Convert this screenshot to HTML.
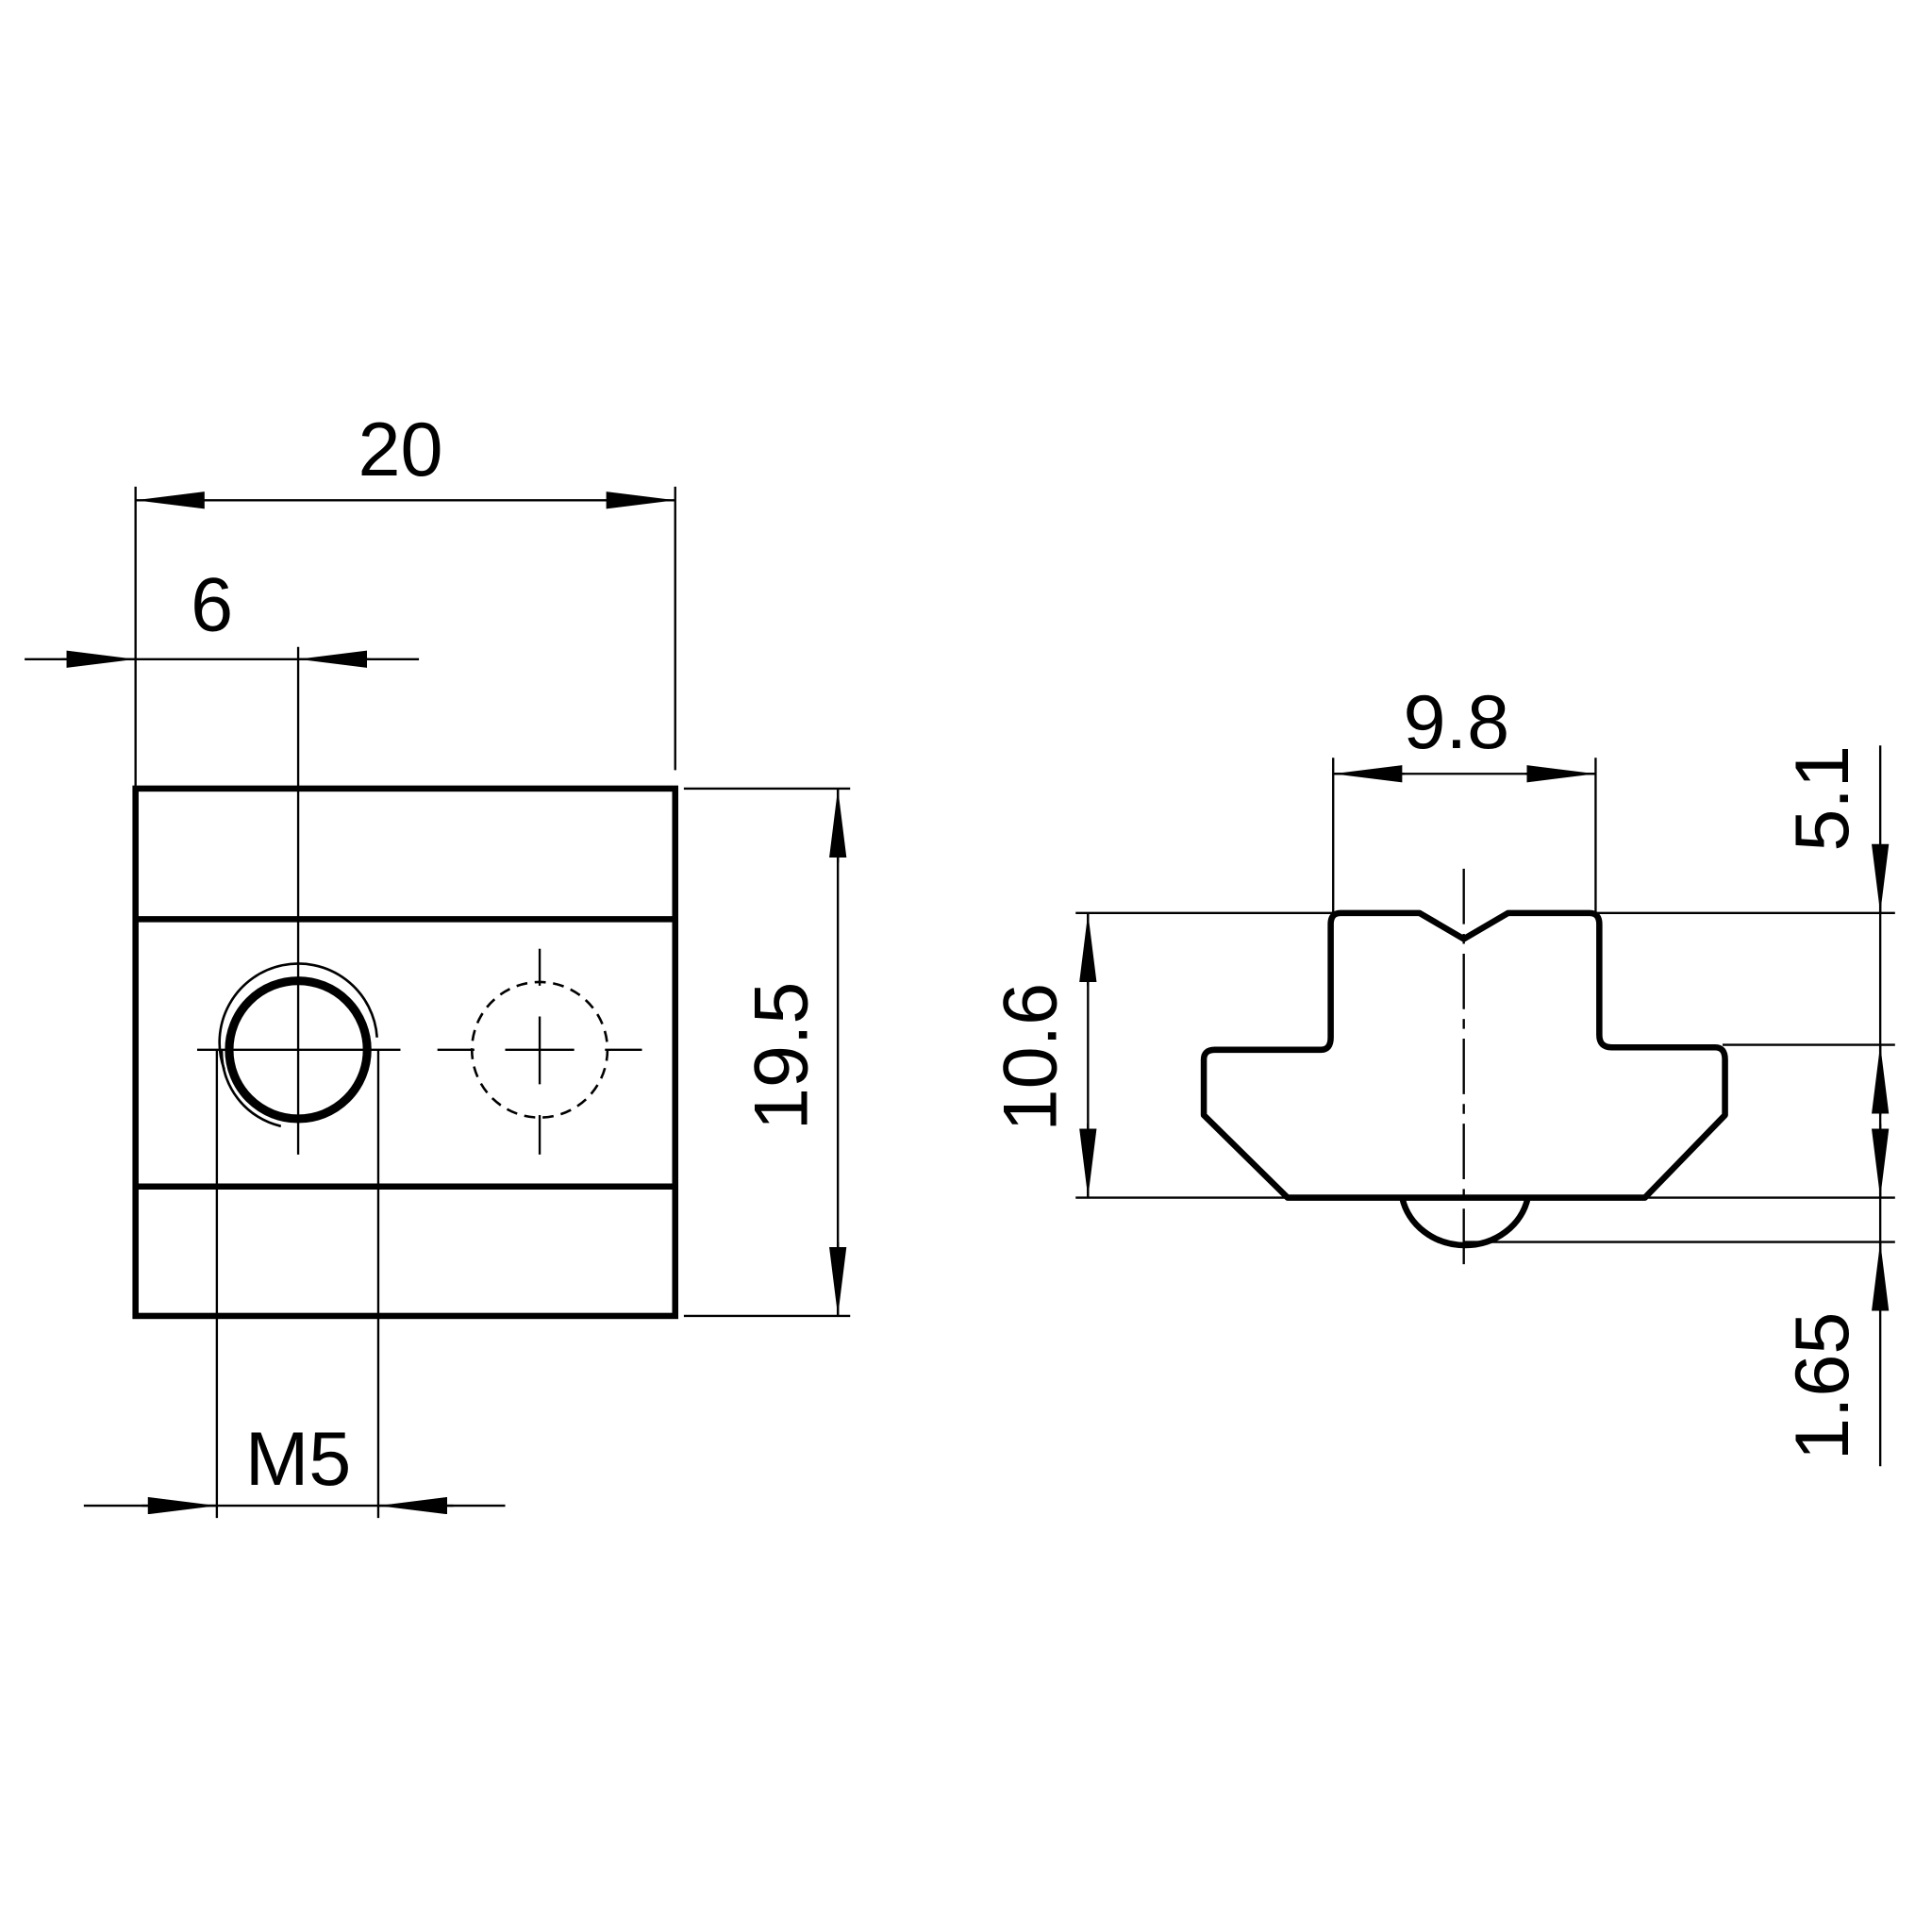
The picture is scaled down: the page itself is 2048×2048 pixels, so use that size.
<!DOCTYPE html>
<html><head><style>html,body{margin:0;padding:0;background:#fff}svg{display:block}</style></head>
<body>
<svg width="2048" height="2048" viewBox="0 0 1568 1568" xmlns="http://www.w3.org/2000/svg">
<defs>
<marker id="a" viewBox="0 0 56 14" refX="56" refY="7" markerWidth="56" markerHeight="14" markerUnits="userSpaceOnUse" orient="auto"><path d="M0,0 L56,7 L0,14 Z" fill="#000"/></marker>
</defs>
<g font-family="'Liberation Sans',sans-serif" font-size="62" fill="#000">
<g stroke="#000" fill="none">
<rect x="110" y="640" width="438" height="428" stroke-width="5"/>
<line x1="110" y1="746" x2="548" y2="746" stroke-width="5"/>
<line x1="110" y1="963" x2="548" y2="963" stroke-width="5"/>
<circle cx="242" cy="852" r="56" stroke-width="7"/>
<path d="M182,868 A64,64 0 1 1 306,842" stroke-width="2"/>
<path d="M180,852 A62,62 0 0 0 228,914" stroke-width="2"/>
<circle cx="438" cy="852" r="55" stroke-width="2" stroke-dasharray="9,6"/>
<g stroke-width="1.8">
<line x1="242" y1="525" x2="242" y2="937"/>
<line x1="160" y1="852" x2="325" y2="852"/>
<line x1="438" y1="770" x2="438" y2="800"/><line x1="438" y1="825" x2="438" y2="880"/><line x1="438" y1="905" x2="438" y2="937"/>
<line x1="355" y1="852" x2="385" y2="852"/><line x1="410" y1="852" x2="466" y2="852"/><line x1="491" y1="852" x2="521" y2="852"/>
<line x1="110" y1="395" x2="110" y2="640"/>
<line x1="548" y1="395" x2="548" y2="625"/>
<line x1="165" y1="406" x2="493" y2="406"/>
<line x1="165" y1="406" x2="110" y2="406" marker-end="url(#a)"/>
<line x1="493" y1="406" x2="548" y2="406" marker-end="url(#a)"/>
<line x1="20" y1="535" x2="340" y2="535"/>
<line x1="50" y1="535" x2="110" y2="535" marker-end="url(#a)"/>
<line x1="300" y1="535" x2="242" y2="535" marker-end="url(#a)"/>
<line x1="555" y1="640" x2="690" y2="640"/>
<line x1="555" y1="1068" x2="690" y2="1068"/>
<line x1="680" y1="640" x2="680" y2="1068"/>
<line x1="680" y1="700" x2="680" y2="640" marker-end="url(#a)"/>
<line x1="680" y1="1008" x2="680" y2="1068" marker-end="url(#a)"/>
<line x1="176" y1="852" x2="176" y2="1232"/>
<line x1="307" y1="852" x2="307" y2="1232"/>
<line x1="68" y1="1222" x2="410" y2="1222"/>
<line x1="115" y1="1222" x2="176" y2="1222" marker-end="url(#a)"/>
<line x1="368" y1="1222" x2="307" y2="1222" marker-end="url(#a)"/>
</g>
</g>
<text x="325" y="386" text-anchor="middle">20</text>
<text x="172" y="512" text-anchor="middle">6</text>
<text x="242" y="1205" text-anchor="middle">M5</text>
<text transform="translate(655,857) rotate(-90)" text-anchor="middle">19.5</text>
<g stroke="#000" fill="none">
<path d="M1088,741 L1152,741 L1188,762 L1224,741 L1290,741 Q1298,741 1298,750 L1298,840 Q1298,850 1308,850 L1392,850 Q1400,850 1400,860 L1400,905 L1335,972 L1045,972 L977,905 L977,860 Q977,852 986,852 L1072,852 Q1080,852 1080,842 L1080,750 Q1080,741 1088,741 Z" stroke-width="5" stroke-linejoin="round"/>
<path d="M1138,972 A52,48 0 0 0 1240,972" stroke-width="5"/>
<g stroke-width="1.8">
<line x1="1188" y1="705" x2="1188" y2="1030" stroke-dasharray="45,8,8,8"/>
<line x1="1082" y1="615" x2="1082" y2="741"/>
<line x1="1295" y1="615" x2="1295" y2="741"/>
<line x1="1082" y1="628" x2="1295" y2="628"/>
<line x1="1140" y1="628" x2="1082" y2="628" marker-end="url(#a)"/>
<line x1="1238" y1="628" x2="1295" y2="628" marker-end="url(#a)"/>
<line x1="873" y1="741" x2="1082" y2="741"/>
<line x1="873" y1="972" x2="1045" y2="972"/>
<line x1="883" y1="741" x2="883" y2="972"/>
<line x1="883" y1="800" x2="883" y2="741" marker-end="url(#a)"/>
<line x1="883" y1="912" x2="883" y2="972" marker-end="url(#a)"/>
<line x1="1295" y1="741" x2="1538" y2="741"/>
<line x1="1398" y1="848" x2="1538" y2="848"/>
<line x1="1335" y1="972" x2="1538" y2="972"/>
<line x1="1188" y1="1008" x2="1538" y2="1008"/>
<line x1="1526" y1="605" x2="1526" y2="1190"/>
<line x1="1526" y1="685" x2="1526" y2="741" marker-end="url(#a)"/>
<line x1="1526" y1="905" x2="1526" y2="848" marker-end="url(#a)"/>
<line x1="1526" y1="912" x2="1526" y2="972" marker-end="url(#a)"/>
<line x1="1526" y1="1064" x2="1526" y2="1008" marker-end="url(#a)"/>
</g>
</g>
<text x="1182" y="607" text-anchor="middle">9.8</text>
<text transform="translate(857,858) rotate(-90)" text-anchor="middle">10.6</text>
<text transform="translate(1500,648) rotate(-90)" text-anchor="middle">5.1</text>
<text transform="translate(1500,1125) rotate(-90)" text-anchor="middle">1.65</text>
</g>
</svg>
</body></html>
